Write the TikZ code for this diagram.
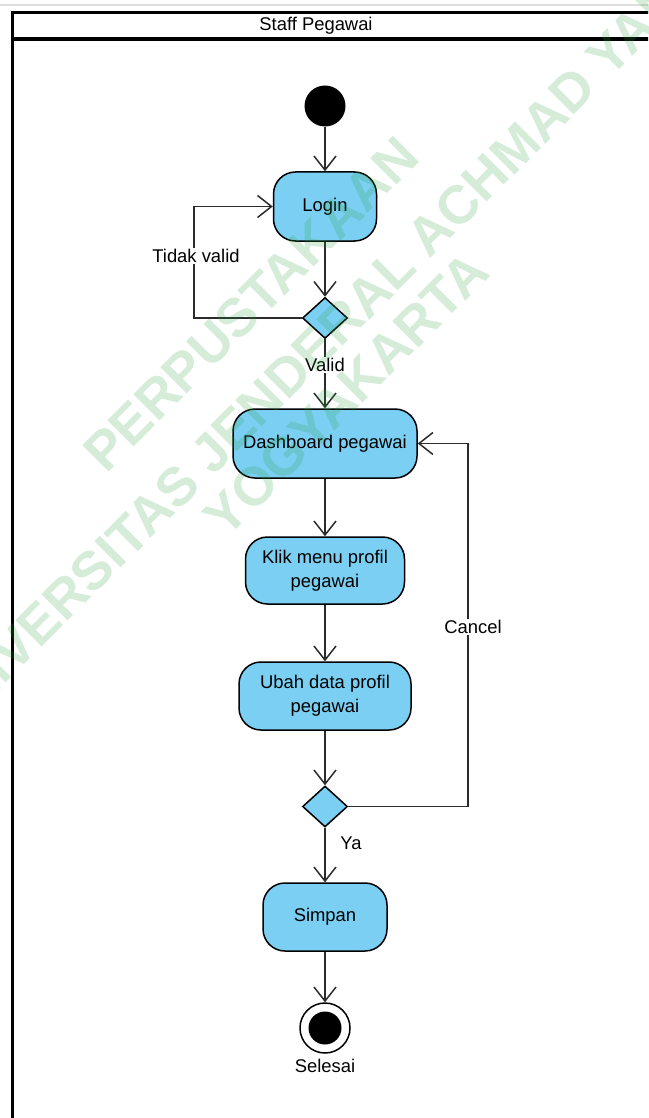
\documentclass[tikz,border=0pt]{standalone}
\usepackage{fontspec}
\setmainfont{Liberation Sans}
\usetikzlibrary{shapes.geometric,arrows.meta}
\definecolor{actfill}{HTML}{7ACFF2}
\definecolor{wmgreen}{RGB}{45,160,65}
\definecolor{edge}{HTML}{2B2B2B}
\begin{document}
\begin{tikzpicture}[x=1pt,y=-1pt,
  font=\fontsize{18.4}{24}\selectfont,
  action/.style={draw=black, line width=1.5pt, fill=actfill, rounded corners=22pt,
    align=center, inner sep=0pt},
  decision/.style={diamond, draw=black, line width=1.5pt, fill=actfill, inner sep=0pt,
    minimum width=45pt, minimum height=41pt},
  flow/.style={draw=edge, line width=1.5pt, -{Straight Barb[length=14pt,width=22pt]}},
  guard/.style={fill=white, inner sep=1.5pt},
  wm/.style={text=wmgreen, text opacity=0.2,
    font=\fontsize{54}{60}\selectfont\bfseries, rotate=45, inner sep=0pt}
]
\useasboundingbox (0,0) rectangle (648,1118);
\clip (0,0) rectangle (648,1118);
\fill[white] (0,0) rectangle (648,1118);

% window edge and swimlane frame
\draw[black!13, line width=1.5pt] (0,5) -- (648,5);
\draw[black, line width=3pt] (12,12.5) -- (650,12.5);
\draw[black, line width=3pt] (12,11) -- (12,1120);
\draw[black, line width=4pt] (12,39) -- (650,39);
\node (lane) at (316,26) {Staff Pegawai};

% activity nodes
\node[circle, fill=black, minimum size=41pt, inner sep=0pt] (start) at (325,106) {};
\node[action, minimum width=103pt, minimum height=69pt] (login) at (325,206.5) {Login};
\node[decision] (d1) at (325,318) {};
\node[action, minimum width=184pt, minimum height=69pt] (dash) at (325,443.5) {Dashboard pegawai};
\node[action, minimum width=159pt, minimum height=67pt] (klik) at (325,570.5) {Klik menu profil\\pegawai};
\node[action, minimum width=172pt, minimum height=68pt] (ubah) at (325,696) {Ubah data profil\\pegawai};
\node[decision] (d2) at (325,806.5) {};
\node[action, minimum width=124pt, minimum height=68pt] (simpan) at (325,917) {Simpan};
\node[circle, draw=black, line width=1.5pt, fill=white, minimum size=50pt, inner sep=0pt] (end) at (325,1028) {};
\node[circle, fill=black, minimum size=33pt, inner sep=0pt] (enddot) at (end.center) {};
\node (selesai) at (325,1066) {Selesai};

% control flows
\draw[flow] (start) -- (login);
\draw[flow] (login) -- (d1);
\draw[flow] (d1.west) -| ([xshift=-79pt]login.west) -- (login.west);
\node[guard] (tidak) at (196,256) {Tidak valid};
\draw[flow] (d1) -- (dash);
\node[guard] (valid) at (325,365) {Valid};
\draw[flow] (dash) -- (klik);
\draw[flow] (klik) -- (ubah);
\draw[flow] (ubah) -- (d2);
\draw[flow] (d2.east) -| ([xshift=50pt]dash.east) -- (dash.east);
\node[guard] (cancel) at (473,627) {Cancel};
\draw[flow] (d2) -- (simpan);
\node (ya) at (351,843) {Ya};
\draw[flow] (simpan) -- (end);

% watermark
\node[wm] (wm1) at (251,304) {PERPUSTAKAAN};
\node[wm] (wm2) at (310,353) {UNIVERSITAS JENDERAL ACHMAD YANI};
\node[wm] (wm3) at (346,394) {YOGYAKARTA};
\end{tikzpicture}
\end{document}
